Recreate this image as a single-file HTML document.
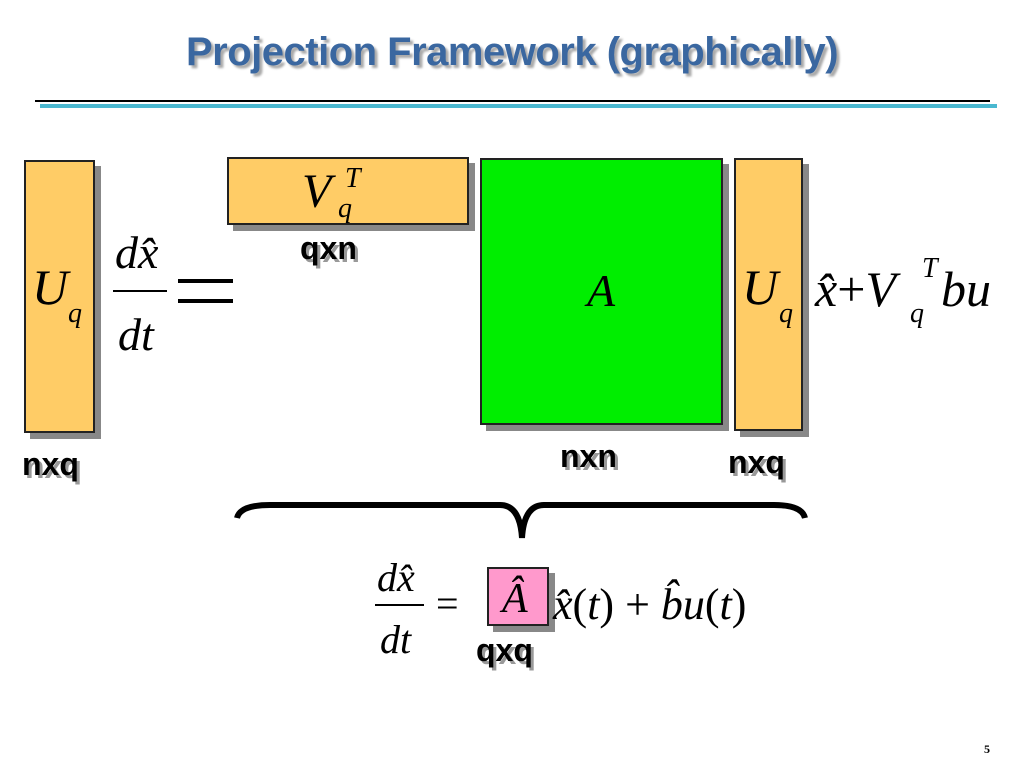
<!DOCTYPE html>
<html><head><style>
body{margin:0;width:1024px;height:768px;background:#fff;position:relative;overflow:hidden;font-family:"Liberation Serif",serif}
.a{position:absolute}
.box{position:absolute;border:2px solid #222;box-shadow:6px 6px 0 #888}
.m{position:absolute;font-style:italic;font-family:"Liberation Serif",serif;color:#000;line-height:1}
.lbl{position:absolute;font-family:"Liberation Sans",sans-serif;font-weight:bold;font-size:32px;text-shadow:3px 3px 0 #999;line-height:1}
</style></head><body>
<div class="a" style="left:0;width:1024px;top:30px;text-align:center;font-family:'Liberation Sans Narrow','Liberation Sans',sans-serif;font-weight:bold;font-size:40px;color:#3a67a0;text-shadow:3px 3px 2px #aaa;letter-spacing:-0.5px">Projection Framework (graphically)</div>
<div class="a" style="left:35px;top:100px;width:955px;height:2px;background:#000"></div>
<div class="a" style="left:40px;top:104px;width:957px;height:4px;background:#4ab8d0"></div>

<div class="box" style="left:24px;top:160px;width:67px;height:269px;background:#ffcc66"></div>
<div class="box" style="left:227px;top:157px;width:238px;height:64px;background:#ffcc66"></div>
<div class="box" style="left:480px;top:158px;width:239px;height:263px;background:#00ee00"></div>
<div class="box" style="left:734px;top:158px;width:65px;height:269px;background:#ffcc66"></div>
<div class="box" style="left:487px;top:567px;width:58px;height:55px;background:#ff99cc"></div>

<div class="m" style="left:32px;top:262px;font-size:50px">U</div>
<div class="m" style="left:68px;top:300px;font-size:28px">q</div>
<div class="m" style="left:115px;top:230px;font-size:46px">dx̂</div>
<div class="a" style="left:113px;top:290px;width:54px;height:2px;background:#000"></div>
<div class="m" style="left:118px;top:312px;font-size:46px">dt</div>
<div class="a" style="left:178px;top:279px;width:55px;height:4px;background:#000"></div>
<div class="a" style="left:178px;top:299px;width:55px;height:4px;background:#000"></div>

<div class="m" style="left:302px;top:168px;font-size:48px">V</div>
<div class="m" style="left:345px;top:165px;font-size:28px">T</div>
<div class="m" style="left:338px;top:195px;font-size:28px">q</div>
<div class="lbl" style="left:300px;top:232px">qxn</div>

<div class="m" style="left:587px;top:268px;font-size:46px">A</div>
<div class="m" style="left:742px;top:262px;font-size:50px">U</div>
<div class="m" style="left:779px;top:300px;font-size:28px">q</div>
<div class="m" style="left:815px;top:264px;font-size:50px;font-style:italic">x̂<span style="font-style:normal">+</span>V</div>
<div class="m" style="left:922px;top:255px;font-size:28px">T</div>
<div class="m" style="left:910px;top:300px;font-size:28px">q</div>
<div class="m" style="left:941px;top:264px;font-size:50px">bu</div>

<div class="lbl" style="left:22px;top:448px">nxq</div>
<div class="lbl" style="left:560px;top:440px">nxn</div>
<div class="lbl" style="left:728px;top:446px">nxq</div>

<svg class="a" style="left:0;top:0" width="1024" height="768">
<path d="M237 518 Q240 505 270 505 L500 505 Q520 505 522 538 Q524 505 544 505 L774 505 Q802 505 805 518" fill="none" stroke="#000" stroke-width="6"/>
</svg>

<div class="m" style="left:377px;top:558px;font-size:40px">dx̂</div>
<div class="a" style="left:375px;top:604px;width:49px;height:2px;background:#000"></div>
<div class="m" style="left:380px;top:620px;font-size:40px">dt</div>
<div class="m" style="left:436px;top:584px;font-size:40px;font-style:normal">=</div>
<div class="m" style="left:502px;top:578px;font-size:42px">Â</div>
<div class="m" style="left:553px;top:583px;font-size:44px">x̂<span style="font-style:normal">(</span>t<span style="font-style:normal">) + </span>b̂u<span style="font-style:normal">(</span>t<span style="font-style:normal">)</span></div>
<div class="lbl" style="left:476px;top:634px">qxq</div>
<div class="a" style="left:984px;top:742px;font-size:12px;font-weight:bold;font-family:'Liberation Serif',serif">5</div>
</body></html>
